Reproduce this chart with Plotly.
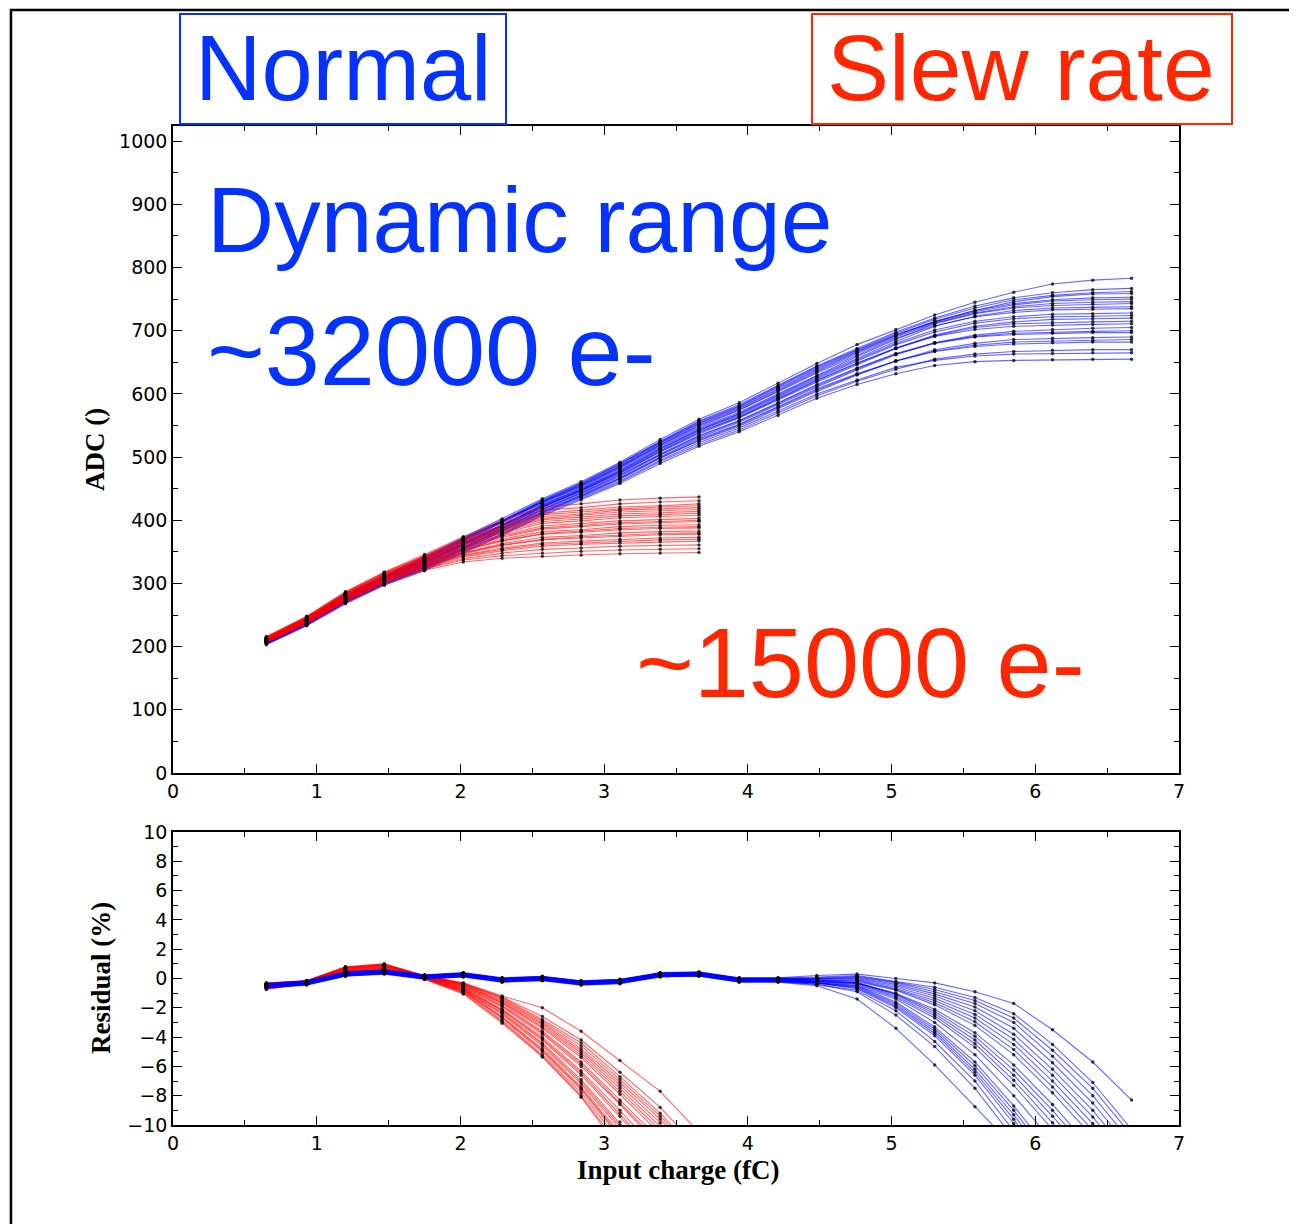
import plotly.graph_objects as go

# ---------------- data ----------------
CHARGE_FC = [0.65, 0.93, 1.20, 1.47, 1.75, 2.02, 2.29, 2.57, 2.84, 3.11, 3.39, 3.66,
             3.94, 4.21, 4.48, 4.76, 5.03, 5.30, 5.58, 5.85, 6.12, 6.40, 6.67]

# Normal mode, ADC counts per channel
BLUE_ADC = [
    [203, 233, 268, 297, 320, 348, 376, 407, 432, 458, 490, 517, 540, 566, 593, 615, 632, 645, 651, 653, 654, 655, 655],
    [204, 235, 270, 299, 323, 351, 379, 411, 436, 462, 495, 523, 546, 573, 600, 622, 642, 653, 660, 663, 664, 665, 665],
    [204, 234, 269, 298, 322, 350, 378, 409, 434, 460, 493, 520, 543, 570, 597, 620, 639, 655, 663, 667, 669, 670, 670],
    [205, 236, 272, 301, 326, 355, 383, 414, 440, 467, 500, 529, 552, 580, 608, 632, 652, 667, 675, 679, 681, 682, 682],
    [205, 235, 271, 300, 324, 353, 381, 412, 438, 465, 498, 526, 549, 576, 604, 630, 652, 670, 680, 686, 688, 689, 690],
    [207, 238, 274, 303, 329, 358, 386, 418, 444, 472, 505, 534, 558, 586, 615, 641, 664, 681, 691, 696, 698, 699, 700],
    [206, 237, 273, 302, 327, 356, 385, 416, 442, 469, 503, 531, 555, 583, 611, 638, 662, 681, 693, 699, 702, 704, 705],
    [208, 239, 275, 305, 332, 361, 390, 421, 447, 476, 510, 540, 564, 593, 622, 649, 672, 691, 702, 707, 709, 710, 711],
    [207, 239, 275, 304, 330, 360, 388, 420, 446, 474, 508, 537, 562, 590, 619, 646, 672, 693, 707, 714, 718, 719, 720],
    [208, 240, 276, 306, 333, 363, 392, 423, 449, 478, 513, 543, 568, 597, 626, 654, 680, 701, 715, 722, 726, 727, 728],
    [210, 242, 278, 308, 336, 366, 395, 427, 453, 483, 518, 548, 574, 603, 633, 661, 688, 708, 722, 729, 733, 734, 735],
    [209, 241, 277, 307, 335, 365, 393, 425, 451, 481, 516, 546, 571, 600, 630, 659, 686, 711, 727, 736, 740, 742, 743],
    [211, 243, 280, 310, 339, 370, 399, 430, 457, 488, 523, 554, 580, 610, 641, 669, 694, 714, 730, 741, 747, 749, 750],
    [210, 243, 279, 309, 338, 368, 397, 429, 455, 485, 520, 551, 577, 607, 637, 666, 692, 714, 732, 746, 754, 758, 759],
    [211, 244, 281, 311, 341, 371, 400, 432, 459, 490, 525, 557, 583, 613, 644, 672, 698, 720, 739, 752, 760, 765, 767],
    [212, 245, 282, 312, 342, 373, 402, 434, 461, 492, 528, 560, 586, 617, 648, 678, 702, 725, 745, 761, 774, 780, 783],
    [211, 244, 281, 311, 340, 371, 399, 431, 458, 489, 524, 556, 581, 612, 643, 670, 696, 718, 736, 749, 756, 760, 762],
    [211, 243, 280, 310, 338, 369, 398, 429, 456, 486, 522, 553, 578, 608, 639, 667, 693, 715, 732, 743, 749, 752, 753],
    [210, 242, 279, 309, 337, 367, 396, 428, 454, 484, 519, 550, 575, 605, 635, 664, 690, 712, 728, 738, 743, 745, 746],
    [209, 241, 277, 306, 334, 364, 392, 424, 450, 479, 514, 544, 569, 598, 628, 656, 683, 707, 723, 732, 736, 737, 738],
    [208, 240, 276, 306, 333, 362, 391, 422, 448, 477, 512, 542, 566, 595, 624, 652, 678, 698, 712, 719, 722, 723, 724],
    [208, 239, 275, 305, 331, 361, 389, 421, 447, 475, 509, 539, 563, 592, 621, 648, 673, 692, 705, 711, 713, 714, 715],
    [206, 237, 273, 303, 328, 357, 386, 417, 443, 471, 504, 533, 557, 585, 613, 640, 663, 680, 690, 694, 696, 697, 697],
    [205, 236, 271, 300, 325, 354, 382, 413, 439, 466, 499, 527, 551, 578, 606, 631, 652, 668, 677, 682, 684, 685, 686],
]

# Slew-rate mode, ADC counts per channel (first 12 charges)
RED_ADC = [
    [206, 236, 270, 299, 321, 334, 340, 343, 345, 347, 348, 349],
    [207, 237, 271, 300, 323, 337, 344, 348, 351, 353, 354, 355],
    [207, 238, 272, 302, 324, 339, 348, 354, 356, 359, 360, 361],
    [208, 238, 273, 303, 326, 342, 352, 359, 362, 364, 366, 367],
    [209, 239, 275, 304, 328, 345, 356, 364, 367, 370, 372, 373],
    [209, 240, 276, 305, 329, 347, 360, 369, 372, 375, 377, 378],
    [210, 241, 277, 306, 331, 349, 363, 373, 376, 380, 382, 383],
    [210, 241, 278, 307, 332, 352, 367, 378, 381, 385, 387, 388],
    [211, 242, 279, 308, 333, 354, 370, 382, 385, 390, 392, 393],
    [212, 243, 279, 310, 335, 356, 373, 386, 390, 394, 396, 398],
    [212, 243, 280, 311, 336, 359, 377, 391, 395, 399, 401, 403],
    [213, 244, 281, 312, 338, 361, 380, 395, 399, 404, 406, 408],
    [213, 245, 283, 313, 339, 364, 384, 401, 405, 410, 412, 414],
    [214, 246, 284, 314, 341, 366, 388, 406, 410, 416, 418, 420],
    [215, 247, 285, 316, 343, 369, 392, 411, 416, 421, 423, 426],
    [216, 248, 287, 318, 346, 374, 400, 421, 426, 432, 435, 437],
    [215, 247, 286, 317, 344, 371, 396, 416, 420, 426, 429, 431],
    [214, 246, 284, 315, 342, 368, 390, 409, 413, 418, 421, 423],
    [214, 245, 283, 314, 340, 365, 386, 403, 408, 413, 415, 417],
    [213, 244, 282, 312, 339, 362, 382, 398, 402, 407, 409, 411],
    [212, 243, 280, 310, 336, 357, 375, 388, 392, 396, 398, 400],
    [211, 242, 278, 308, 333, 353, 368, 379, 383, 387, 389, 390],
    [210, 240, 276, 306, 330, 348, 361, 370, 374, 377, 379, 380],
    [208, 239, 274, 304, 327, 344, 354, 362, 364, 367, 369, 370],
]

# Residuals (%) of normal mode
BLUE_RES = [
    [-0.65, -0.45, 0.15, 0.30, -0.05, 0.10, -0.25, -0.15, -0.45, -0.35, 0.10, 0.15, -0.25, -0.25, -0.5, -1.4, -3.4, -5.9, -8.75, -11.5, -15.5, -19.5, -24.0],
    [-0.60, -0.40, 0.20, 0.35, 0.00, 0.15, -0.20, -0.10, -0.40, -0.30, 0.15, 0.20, -0.20, -0.20, -0.4, -0.9, -2.5, -4.65, -7.5, -10.9, -15.0, -19.0, -23.0],
    [-0.62, -0.42, 0.18, 0.33, -0.02, 0.13, -0.22, -0.12, -0.42, -0.32, 0.13, 0.18, -0.22, -0.22, -0.4, -0.8, -2.2, -4.3, -7.0, -10.4, -14.3, -18.0, -22.0],
    [-0.55, -0.35, 0.25, 0.40, 0.05, 0.20, -0.15, -0.05, -0.35, -0.25, 0.20, 0.25, -0.15, -0.15, -0.3, -0.7, -2.0, -3.9, -6.6, -9.9, -13.6, -17.2, -21.0],
    [-0.58, -0.38, 0.22, 0.37, 0.02, 0.17, -0.18, -0.08, -0.38, -0.28, 0.17, 0.22, -0.18, -0.18, -0.3, -0.6, -1.8, -3.6, -6.2, -9.3, -12.8, -16.3, -20.0],
    [-0.50, -0.30, 0.30, 0.45, 0.10, 0.25, -0.10, 0.00, -0.30, -0.20, 0.25, 0.30, -0.10, -0.10, -0.3, -0.5, -1.6, -3.3, -5.7, -8.7, -12.0, -15.3, -19.0],
    [-0.52, -0.32, 0.28, 0.43, 0.08, 0.23, -0.12, -0.02, -0.32, -0.22, 0.23, 0.28, -0.12, -0.12, -0.2, -0.5, -1.4, -3.0, -5.2, -8.0, -11.1, -14.4, -18.0],
    [-0.47, -0.27, 0.33, 0.48, 0.13, 0.28, -0.07, 0.03, -0.27, -0.17, 0.28, 0.33, -0.07, -0.07, -0.2, -0.4, -1.3, -2.7, -4.7, -7.3, -10.3, -13.5, -17.0],
    [-0.48, -0.28, 0.32, 0.47, 0.12, 0.27, -0.08, 0.02, -0.28, -0.18, 0.27, 0.32, -0.08, -0.08, -0.2, -0.3, -1.1, -2.4, -4.2, -6.6, -9.4, -12.6, -16.0],
    [-0.45, -0.25, 0.35, 0.50, 0.15, 0.30, -0.05, 0.05, -0.25, -0.15, 0.30, 0.35, -0.05, -0.05, -0.1, -0.3, -1.0, -2.1, -3.7, -5.9, -8.6, -11.7, -15.0],
    [-0.42, -0.22, 0.38, 0.53, 0.18, 0.33, -0.02, 0.08, -0.22, -0.12, 0.33, 0.38, -0.02, -0.02, -0.1, -0.2, -0.8, -1.8, -3.2, -5.2, -7.8, -10.8, -14.0],
    [-0.44, -0.24, 0.36, 0.51, 0.16, 0.31, -0.04, 0.06, -0.24, -0.14, 0.31, 0.36, -0.04, -0.04, -0.1, -0.1, -0.7, -1.5, -2.7, -4.5, -7.0, -9.9, -13.2],
    [-0.40, -0.20, 0.40, 0.55, 0.20, 0.35, 0.00, 0.10, -0.20, -0.10, 0.35, 0.40, 0.00, 0.00, 0.0, 0.0, -0.5, -1.2, -2.2, -3.8, -6.2, -9.0, -12.2],
    [-0.41, -0.21, 0.39, 0.54, 0.19, 0.34, -0.01, 0.09, -0.21, -0.11, 0.34, 0.39, -0.01, -0.01, 0.0, 0.1, -0.3, -0.9, -1.7, -3.0, -5.3, -8.0, -11.2],
    [-0.38, -0.18, 0.42, 0.57, 0.22, 0.37, 0.02, 0.12, -0.18, -0.08, 0.37, 0.42, 0.02, 0.02, 0.1, 0.2, -0.2, -0.6, -1.3, -2.4, -4.5, -7.1, -10.3],
    [-0.35, -0.15, 0.45, 0.60, 0.25, 0.40, 0.05, 0.15, -0.15, -0.05, 0.40, 0.45, 0.05, 0.05, 0.2, 0.3, 0.0, -0.3, -0.9, -1.7, -3.5, -5.7, -8.3],
    [-0.39, -0.19, 0.41, 0.56, 0.21, 0.36, 0.01, 0.11, -0.19, -0.09, 0.36, 0.41, 0.01, 0.01, 0.05, 0.15, -0.25, -0.75, -1.5, -2.7, -4.9, -7.5, -10.7],
    [-0.57, -0.37, 0.23, 0.38, 0.03, 0.18, -0.17, -0.07, -0.37, -0.27, 0.18, 0.23, -0.17, -0.17, 0.0, 0.05, -0.4, -1.05, -1.95, -3.4, -5.75, -8.5, -11.7],
    [-0.37, -0.17, 0.43, 0.58, 0.23, 0.38, 0.03, 0.13, -0.17, -0.07, 0.38, 0.43, 0.03, 0.03, -0.05, -0.05, -0.6, -1.35, -2.45, -4.15, -6.6, -9.45, -12.7],
    [-0.54, -0.34, 0.26, 0.41, 0.06, 0.21, -0.14, -0.04, -0.34, -0.24, 0.21, 0.26, -0.14, -0.14, -0.1, -0.15, -0.75, -1.65, -2.95, -4.85, -7.4, -10.35, -13.6],
    [-0.46, -0.26, 0.34, 0.49, 0.14, 0.29, -0.06, 0.04, -0.26, -0.16, 0.29, 0.34, -0.06, -0.06, -0.15, -0.3, -1.05, -2.25, -3.95, -6.25, -9.0, -12.15, -15.5],
    [-0.59, -0.39, 0.21, 0.36, 0.01, 0.16, -0.19, -0.09, -0.39, -0.29, 0.16, 0.21, -0.19, -0.19, -0.2, -0.35, -1.2, -2.55, -4.45, -6.95, -9.85, -13.05, -16.5],
    [-0.49, -0.29, 0.31, 0.46, 0.11, 0.26, -0.09, 0.01, -0.29, -0.19, 0.26, 0.31, -0.09, -0.09, -0.3, -0.55, -1.7, -3.45, -5.95, -9.0, -12.4, -15.8, -19.5],
    [-0.63, -0.43, 0.17, 0.32, -0.03, 0.12, -0.23, -0.13, -0.43, -0.33, 0.12, 0.17, -0.23, -0.23, -0.3, -0.65, -1.9, -3.75, -6.4, -9.6, -13.2, -16.75, -20.5],
]

# Residuals (%) of slew-rate mode
RED_RES = [
    [-0.75, -0.35, 0.30, 0.40, -0.05, -1.05, -3.05, -5.35, -8.1, -11.7, -15.4, -19.0],
    [-0.72, -0.34, 0.33, 0.44, -0.03, -1.00, -2.95, -5.30, -8.0, -11.4, -15.0, -18.5],
    [-0.69, -0.32, 0.37, 0.48, -0.02, -0.95, -2.85, -5.20, -7.8, -11.1, -14.6, -18.0],
    [-0.66, -0.31, 0.40, 0.52, 0.00, -0.90, -2.70, -5.00, -7.6, -10.8, -14.2, -17.5],
    [-0.63, -0.30, 0.43, 0.56, 0.02, -0.85, -2.60, -4.80, -7.4, -10.5, -13.8, -17.0],
    [-0.60, -0.28, 0.47, 0.60, 0.03, -0.80, -2.45, -4.60, -7.2, -10.2, -13.4, -16.5],
    [-0.57, -0.27, 0.50, 0.64, 0.05, -0.75, -2.30, -4.40, -6.9, -9.8, -12.9, -16.0],
    [-0.54, -0.26, 0.53, 0.68, 0.07, -0.70, -2.20, -4.20, -6.6, -9.4, -12.4, -15.5],
    [-0.51, -0.24, 0.57, 0.72, 0.08, -0.65, -2.10, -4.00, -6.3, -9.0, -12.0, -15.0],
    [-0.48, -0.23, 0.60, 0.76, 0.10, -0.60, -1.95, -3.80, -6.0, -8.6, -11.5, -14.5],
    [-0.45, -0.22, 0.63, 0.80, 0.12, -0.55, -1.80, -3.60, -5.7, -8.3, -11.0, -14.0],
    [-0.42, -0.20, 0.67, 0.84, 0.13, -0.50, -1.70, -3.40, -5.4, -7.9, -10.6, -13.5],
    [-0.39, -0.19, 0.70, 0.88, 0.15, -0.45, -1.60, -3.20, -5.1, -7.5, -10.1, -13.0],
    [-0.36, -0.18, 0.73, 0.92, 0.17, -0.40, -1.45, -3.00, -4.8, -7.1, -9.6, -12.5],
    [-0.33, -0.16, 0.77, 0.96, 0.18, -0.35, -1.30, -2.80, -4.4, -6.7, -9.2, -12.0],
    [-0.30, -0.15, 0.80, 1.00, 0.20, -0.30, -1.20, -2.00, -3.6, -5.6, -7.7, -10.5],
    [-0.31, -0.15, 0.79, 0.98, 0.19, -0.33, -1.27, -2.60, -4.2, -6.4, -8.8, -11.6],
    [-0.35, -0.17, 0.75, 0.94, 0.17, -0.38, -1.38, -2.90, -4.6, -6.9, -9.4, -12.25],
    [-0.38, -0.18, 0.72, 0.90, 0.16, -0.43, -1.52, -3.10, -4.95, -7.3, -9.85, -12.75],
    [-0.40, -0.20, 0.68, 0.86, 0.14, -0.48, -1.65, -3.30, -5.25, -7.7, -10.35, -13.25],
    [-0.47, -0.22, 0.62, 0.78, 0.11, -0.58, -1.88, -3.70, -5.85, -8.45, -11.25, -14.25],
    [-0.52, -0.25, 0.55, 0.70, 0.08, -0.68, -2.15, -4.10, -6.45, -9.2, -12.2, -15.25],
    [-0.58, -0.28, 0.48, 0.62, 0.04, -0.78, -2.38, -4.50, -7.05, -10.0, -13.15, -16.25],
    [-0.65, -0.30, 0.42, 0.54, 0.01, -0.88, -2.65, -4.90, -7.5, -10.65, -14.0, -17.25],
]

X_TICKS = [0, 1, 2, 3, 4, 5, 6, 7]
ADC_TICKS = [0, 100, 200, 300, 400, 500, 600, 700, 800, 900, 1000]
RES_TICKS = [-10, -8, -6, -4, -2, 0, 2, 4, 6, 8, 10]

# ---------------- styling ----------------
W, H = 1297, 1224
OFF = 8  # page body margin offset of the figure inside the browser window
BLUE_LINE = "rgba(0,0,255,0.6)"
RED_LINE = "rgba(255,0,0,0.6)"
DOT = "rgba(0,0,0,0.75)"
TEXT_BLUE = "#0433ff"
TEXT_RED = "#ff2600"


def px(x):
    return (x - OFF) / W


def py(y):
    return 1 - (y - OFF) / H


fig = go.Figure()


def add_group(rows, color, xa, ya):
    for row in rows:
        fig.add_trace(go.Scatter(x=CHARGE_FC[:len(row)], y=row, mode="lines",
                                 line=dict(color=color, width=1.1),
                                 xaxis=xa, yaxis=ya, hoverinfo="skip"))


def add_dots(rows, xa, ya):
    for row in rows:
        fig.add_trace(go.Scatter(x=CHARGE_FC[:len(row)], y=row, mode="markers",
                                 marker=dict(color=DOT, size=3.5, line=dict(width=0)),
                                 xaxis=xa, yaxis=ya, hoverinfo="skip"))


# top: ADC
add_group(BLUE_ADC, BLUE_LINE, "x", "y")
add_group(RED_ADC, RED_LINE, "x", "y")
add_dots(BLUE_ADC, "x", "y")
add_dots(RED_ADC, "x", "y")
# bottom: residuals
add_group(RED_RES, RED_LINE, "x2", "y2")
add_group(BLUE_RES, BLUE_LINE, "x2", "y2")
add_dots(RED_RES, "x2", "y2")
add_dots(BLUE_RES, "x2", "y2")

axis_common = dict(
    showline=True, linecolor="black", linewidth=1.5, mirror="allticks",
    ticks="inside", ticklen=9, tickwidth=1.2, tickcolor="black",
    showgrid=False, zeroline=False, automargin=False,
    tickfont=dict(family="DejaVu Sans", size=19, color="black"),
)
minor_common = dict(ticks="inside", ticklen=5, tickwidth=1, tickcolor="black", showgrid=False)

xdom = [px(173), px(1179)]
fig.update_layout(
    template="none",
    xaxis=dict(domain=xdom, range=[0, 7], tickvals=X_TICKS, anchor="y",
               minor=dict(dtick=0.5, **minor_common), **axis_common),
    yaxis=dict(domain=[py(773), py(126)], range=[0, 1024], tickvals=ADC_TICKS, anchor="x",
               minor=dict(dtick=50, **minor_common), **axis_common),
    xaxis2=dict(domain=xdom, range=[0, 7], tickvals=X_TICKS, anchor="y2",
                minor=dict(dtick=0.5, **minor_common), **axis_common),
    yaxis2=dict(domain=[py(1125), py(832)], range=[-10, 10], tickvals=RES_TICKS, anchor="x2",
                minor=dict(dtick=1, **minor_common), **axis_common),
    width=W, height=H, autosize=False,
    margin=dict(l=0, r=0, t=0, b=0, pad=0, autoexpand=False),
    paper_bgcolor="#f8f7ef", plot_bgcolor="white",
    showlegend=False,
)

shapes = [
    dict(type="rect", xref="paper", yref="paper", x0=px(11), x1=1.02, y0=-0.02, y1=py(10),
         line=dict(color="black", width=2.5), fillcolor="white", layer="below"),
    dict(type="rect", xref="paper", yref="paper", x0=px(180), x1=px(506), y0=py(124), y1=py(14),
         line=dict(color=TEXT_BLUE, width=2), fillcolor="rgba(0,0,0,0)"),
    dict(type="rect", xref="paper", yref="paper", x0=px(812), x1=px(1232), y0=py(124), y1=py(14),
         line=dict(color=TEXT_RED, width=2), fillcolor="rgba(0,0,0,0)"),
]
fig.update_layout(shapes=shapes)

ann = [
    dict(text="Normal", x=px(343), y=py(68), xanchor="center", yanchor="middle",
         font=dict(color=TEXT_BLUE, family="Liberation Sans", size=92)),
    dict(text="Slew rate", x=px(1021), y=py(68), xanchor="center", yanchor="middle",
         font=dict(color=TEXT_RED, family="Liberation Sans", size=93)),
    dict(text="Dynamic range", x=px(205), y=py(220), xanchor="left", yanchor="middle",
         font=dict(color=TEXT_BLUE, family="Liberation Sans", size=93)),
    dict(text="~32000 e-", x=px(205), y=py(350), xanchor="left", yanchor="middle",
         font=dict(color=TEXT_BLUE, family="Liberation Sans", size=99)),
    dict(text="~15000 e-", x=px(634), y=py(662), xanchor="left", yanchor="middle",
         font=dict(color=TEXT_RED, family="Liberation Sans", size=99)),
    dict(text="ADC ()", x=px(95), y=py(450), textangle=-90, xanchor="center", yanchor="middle",
         font=dict(family="Liberation Serif", size=27, color="black", weight="bold")),
    dict(text="Residual (%)", x=px(101), y=py(978), textangle=-90, xanchor="center", yanchor="middle",
         font=dict(family="Liberation Serif", size=27, color="black", weight="bold")),
    dict(text="Input charge (fC)", x=px(678), y=py(1170), xanchor="center", yanchor="middle",
         font=dict(family="Liberation Serif", size=27, color="black", weight="bold")),
]
for a in ann:
    a.update(xref="paper", yref="paper", showarrow=False)
fig.update_layout(annotations=ann)

fig.write_html("out.html")
